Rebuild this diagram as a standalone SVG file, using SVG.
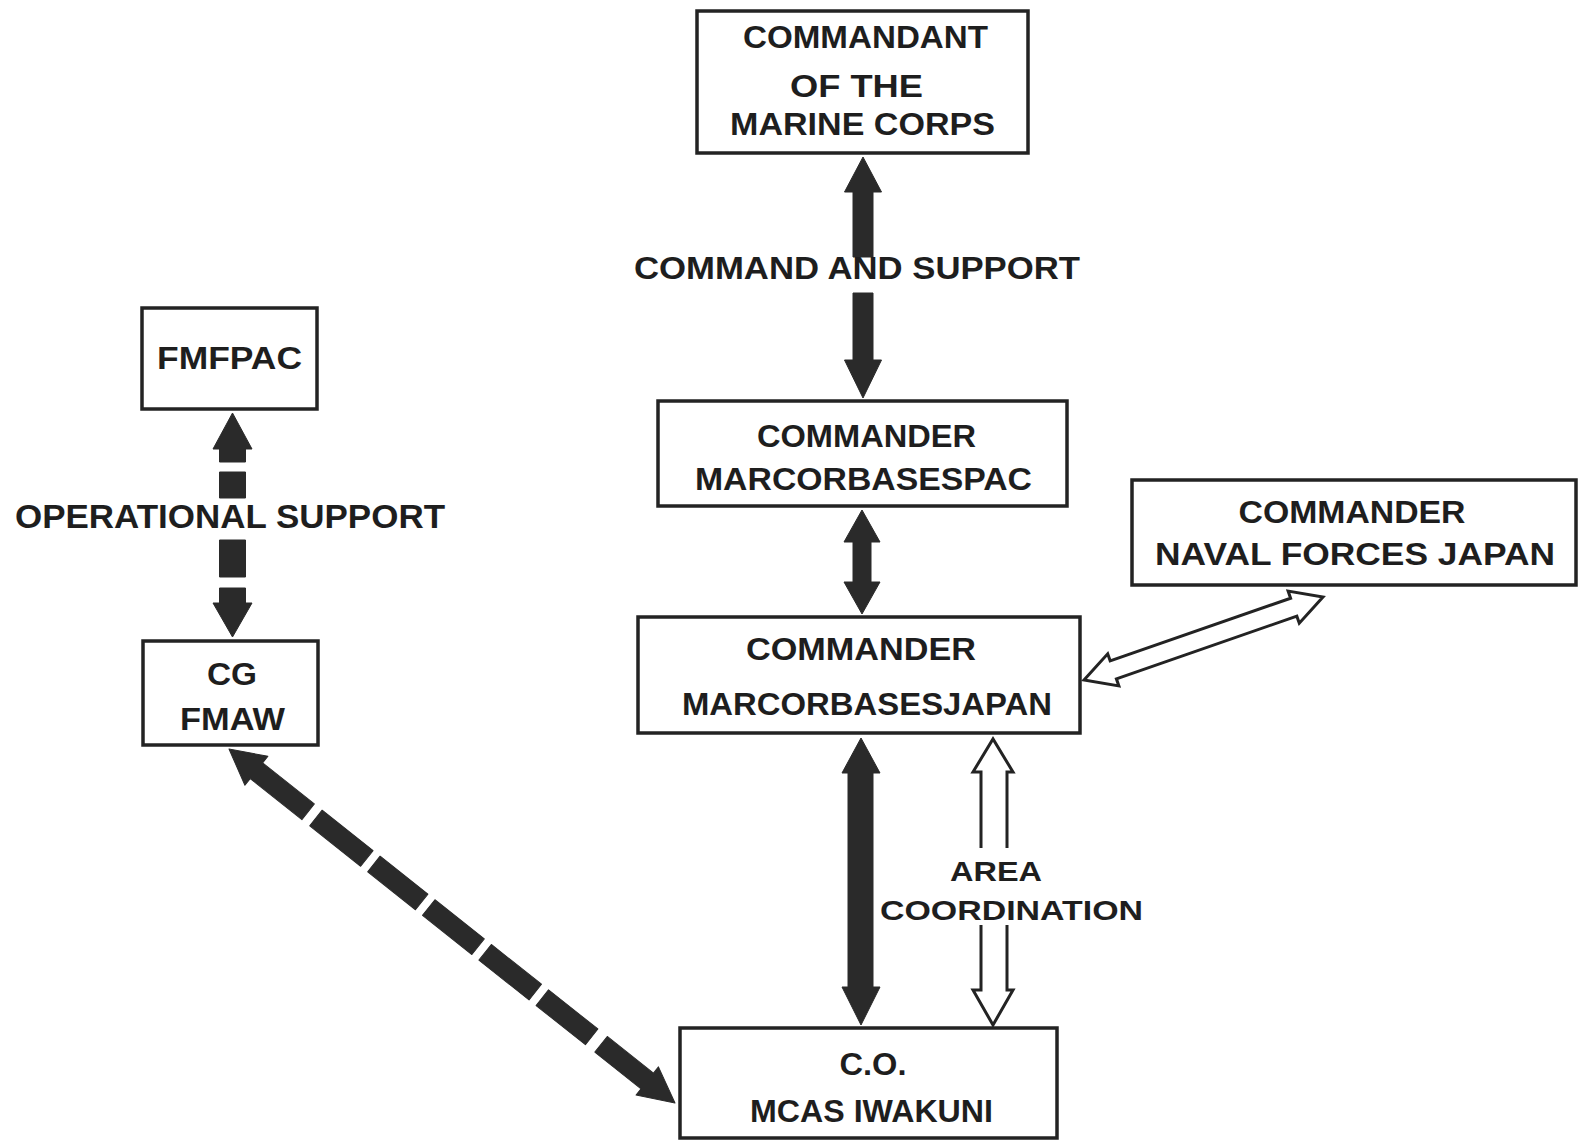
<svg xmlns="http://www.w3.org/2000/svg" width="1583" height="1142" viewBox="0 0 1583 1142">
<style>
.box{fill:#fff;stroke:#232323;stroke-width:3.5}
.t{font-family:"Liberation Sans",Arial,Helvetica,sans-serif;font-weight:bold;fill:#1e1e1e;text-anchor:middle}
.n{font-size:31px}
.lbl{font-size:32px}
.solid{fill:#2a2a2a;stroke:#2a2a2a;stroke-width:1;stroke-linejoin:round}
.hollow{fill:#fff;stroke:#232323;stroke-width:3;stroke-linejoin:miter}
</style>
<rect width="1583" height="1142" fill="#fff"/>
<g id="connectors">
  <!-- Commandant <-> MARCORBASESPAC -->
  <polygon class="solid" points="863,157 881.5,192 873,192 873,257 853,257 853,192 844.5,192"/>
  <polygon class="solid" points="853,293 873,293 873,360 881.5,360 863,398 844.5,360 853,360"/>
  <!-- PAC <-> JAPAN -->
  <polygon class="solid" points="862,510 880,542 871,542 871,582 880,582 862,614 844,582 853,582 853,542 844,542"/>
  <!-- JAPAN <-> MCAS -->
  <polygon class="solid" points="861,738 880,773 873,773 873,987 880,987 861,1025 842,987 848,987 848,773 842,773"/>
  <!-- Area coordination (hollow) -->
  <path class="hollow" d="M981,848 L981,772 L973,772 L993,739 L1013,772 L1007,772 L1007,848"/>
  <path class="hollow" d="M981,925 L981,990 L973,990 L993,1025 L1013,990 L1007,990 L1007,925"/>
  <!-- JAPAN <-> Naval forces (hollow) -->
  <path class="hollow" transform="translate(1084,680) rotate(-19.15)" d="M0,0 L31,-17 L31,-9.5 L222,-9.5 L222,-17 L253,0 L222,17 L222,9.5 L31,9.5 L31,17 Z"/>
  <!-- FMFPAC <-> CG FMAW (dashed) -->
  <polygon class="solid" points="232.5,413 252,449 245.5,449 245.5,462 219.5,462 219.5,449 213,449"/>
  <rect class="solid" x="219.5" y="472" width="26" height="26"/>
  <rect class="solid" x="219.5" y="540" width="26" height="37"/>
  <polygon class="solid" points="219.5,588 245.5,588 245.5,603 252,603 232.5,637 213,603 219.5,603"/>
  <!-- CG FMAW <-> MCAS (dashed diagonal) -->
  <g transform="translate(229,749) rotate(38.44)">
    <polygon class="solid" points="0,0 35,-18.5 35,-10 101,-10 101,10 35,10 35,18.5"/>
    <rect class="solid" x="111" y="-10" width="65" height="20"/>
    <rect class="solid" x="185" y="-10" width="61" height="20"/>
    <rect class="solid" x="255" y="-10" width="63" height="20"/>
    <rect class="solid" x="327" y="-10" width="64" height="20"/>
    <rect class="solid" x="400" y="-10" width="63" height="20"/>
    <polygon class="solid" points="475,-10 534,-10 534,-18 569.4,0 534,18 534,10 475,10"/>
  </g>
</g>
<g id="label-command-support"><text class="t lbl" x="857" y="279" textLength="446" lengthAdjust="spacingAndGlyphs">COMMAND AND SUPPORT</text></g>
<g id="label-operational-support"><text class="t" style="font-size:34px" x="230" y="528" textLength="430" lengthAdjust="spacingAndGlyphs">OPERATIONAL SUPPORT</text></g>
<g id="label-area-coordination">
  <text class="t" style="font-size:28px" x="996" y="881" textLength="92" lengthAdjust="spacingAndGlyphs">AREA</text>
  <text class="t" style="font-size:28px" x="1011.5" y="920" textLength="263" lengthAdjust="spacingAndGlyphs">COORDINATION</text>
</g>
<g id="node-cmc">
  <rect class="box" x="697" y="11" width="331" height="142"/>
  <text class="t n" x="865.5" y="48" textLength="245" lengthAdjust="spacingAndGlyphs">COMMANDANT</text>
  <text class="t n" x="856.5" y="97" textLength="133" lengthAdjust="spacingAndGlyphs">OF THE</text>
  <text class="t n" x="862.5" y="135" textLength="265" lengthAdjust="spacingAndGlyphs">MARINE CORPS</text>
</g>
<g id="node-fmfpac">
  <rect class="box" x="142" y="308" width="175" height="101"/>
  <text class="t n" x="229.5" y="369" textLength="145" lengthAdjust="spacingAndGlyphs">FMFPAC</text>
</g>
<g id="node-cgfmaw">
  <rect class="box" x="143" y="641" width="175" height="104"/>
  <text class="t n" x="232" y="685" textLength="50" lengthAdjust="spacingAndGlyphs">CG</text>
  <text class="t n" x="232.5" y="730" textLength="105" lengthAdjust="spacingAndGlyphs">FMAW</text>
</g>
<g id="node-marcorbasespac">
  <rect class="box" x="658" y="401" width="409" height="105"/>
  <text class="t n" x="866.5" y="447" textLength="219" lengthAdjust="spacingAndGlyphs">COMMANDER</text>
  <text class="t n" x="863.5" y="490" textLength="337" lengthAdjust="spacingAndGlyphs">MARCORBASESPAC</text>
</g>
<g id="node-marcorbasesjapan">
  <rect class="box" x="638" y="617" width="442" height="116"/>
  <text class="t n" x="861" y="660" textLength="230" lengthAdjust="spacingAndGlyphs">COMMANDER</text>
  <text class="t n" x="867" y="715" textLength="370" lengthAdjust="spacingAndGlyphs">MARCORBASESJAPAN</text>
</g>
<g id="node-navalforcesjapan">
  <rect class="box" x="1132" y="480" width="444" height="105"/>
  <text class="t n" x="1352" y="523" textLength="227" lengthAdjust="spacingAndGlyphs">COMMANDER</text>
  <text class="t n" x="1355" y="565" textLength="400" lengthAdjust="spacingAndGlyphs">NAVAL FORCES JAPAN</text>
</g>
<g id="node-mcasiwakuni">
  <rect class="box" x="680" y="1028" width="377" height="110"/>
  <text class="t n" x="873" y="1075" textLength="67" lengthAdjust="spacingAndGlyphs">C.O.</text>
  <text class="t n" x="871.5" y="1122" textLength="243" lengthAdjust="spacingAndGlyphs">MCAS IWAKUNI</text>
</g>
</svg>
